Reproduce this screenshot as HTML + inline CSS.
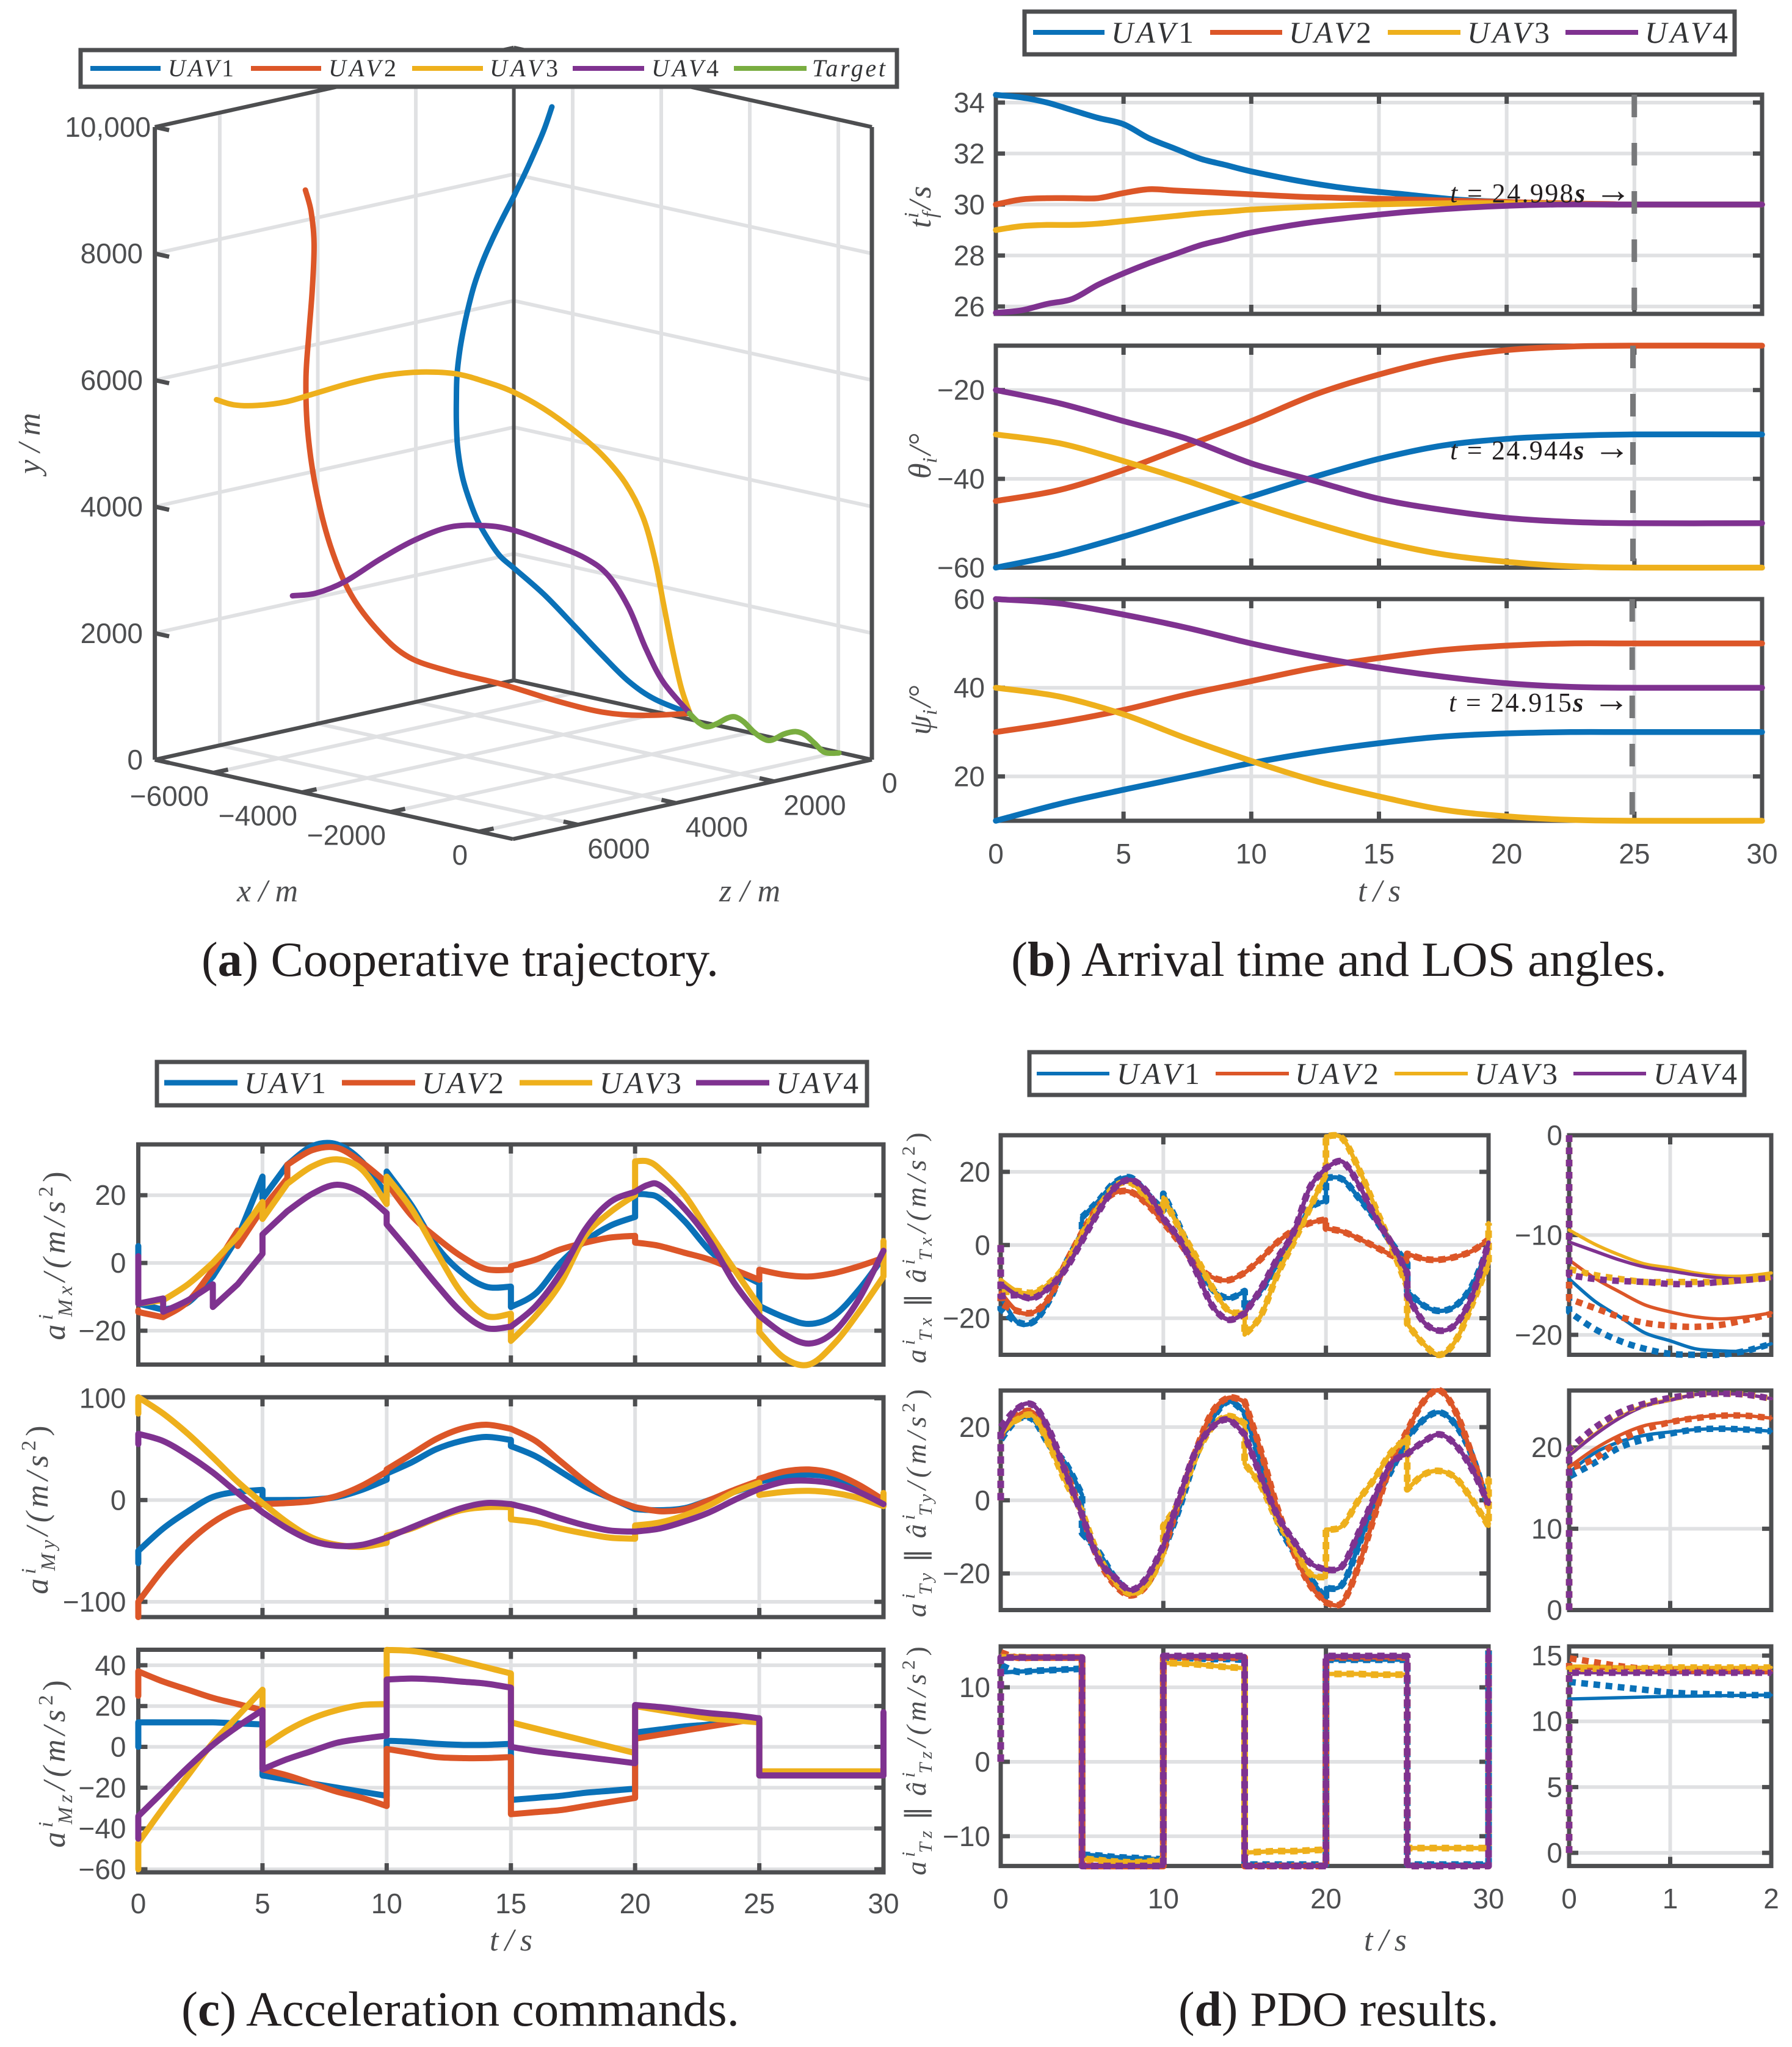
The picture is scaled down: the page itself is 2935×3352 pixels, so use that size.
<!DOCTYPE html>
<html lang="en">
<head>
<meta charset="utf-8">
<title>UAV cooperative guidance results</title>
<style>
html,body{margin:0;padding:0;background:#fff}
svg{display:block}
.tick{font:46px "Liberation Sans",sans-serif;fill:#4d4e50}
.m{font:italic 52px "Liberation Serif",serif;fill:#4d4e50}
.md{font:italic 46px "Liberation Serif",serif;fill:#4d4e50}
.s{font-size:34px}
.md .s{font-size:31px}
.r{font-style:normal}
.lg{font:italic 50px "Liberation Serif",serif;fill:#333436}
.lga{font:italic 40px "Liberation Serif",serif;fill:#333436}
.cap{font:80px "Liberation Serif",serif;fill:#231f20}
.note{font:44px "Liberation Serif","DejaVu Serif",serif;fill:#231f20}
.lbox{fill:#fff;stroke:#4d4e50;stroke-width:7}
</style>
</head>
<body>
<svg id="fig" xmlns="http://www.w3.org/2000/svg" width="2935" height="3352" viewBox="0 0 2935 3352">
<rect width="2935" height="3352" fill="#fff"/>
<g id="marks"></g>

<!-- Panel a static text -->
<g>
<rect class="lbox" x="132" y="82" width="1337" height="60"/>
<line x1="148" x2="263" y1="112" y2="112" stroke="#0a71b8" stroke-width="8"/>
<text class="lga" x="275" y="125" textLength="108">UAV<tspan class="r">1</tspan></text>
<line x1="411" x2="526" y1="112" y2="112" stroke="#dc5628" stroke-width="8"/>
<text class="lga" x="538" y="125" textLength="111">UAV<tspan class="r">2</tspan></text>
<line x1="675" x2="791" y1="112" y2="112" stroke="#eeb01c" stroke-width="8"/>
<text class="lga" x="802" y="125" textLength="112">UAV<tspan class="r">3</tspan></text>
<line x1="938" x2="1055" y1="112" y2="112" stroke="#7f3290" stroke-width="8"/>
<text class="lga" x="1067" y="125" textLength="110">UAV<tspan class="r">4</tspan></text>
<line x1="1202" x2="1321" y1="112" y2="112" stroke="#79ad40" stroke-width="8"/>
<text class="lga" x="1330" y="125" textLength="120">Target</text>
</g>
<text class="m" transform="translate(65,726) rotate(-90)" text-anchor="middle" textLength="100">y/m</text>
<text class="m" x="438" y="1476" text-anchor="middle" textLength="100">x/m</text>
<text class="m" x="1228" y="1476" text-anchor="middle" textLength="100">z/m</text>
<text class="cap" x="330" y="1598" textLength="847" lengthAdjust="spacingAndGlyphs">(<tspan font-weight="bold">a</tspan>) Cooperative trajectory.</text>

<!-- Panel b static text -->
<g>
<rect class="lbox" x="1678" y="19" width="1163" height="70"/>
<line x1="1692" x2="1809" y1="53" y2="53" stroke="#0a71b8" stroke-width="8"/>
<text class="lg" x="1820" y="70" textLength="135">UAV<tspan class="r">1</tspan></text>
<line x1="1982" x2="2100" y1="53" y2="53" stroke="#dc5628" stroke-width="8"/>
<text class="lg" x="2111" y="70" textLength="135">UAV<tspan class="r">2</tspan></text>
<line x1="2273" x2="2392" y1="53" y2="53" stroke="#eeb01c" stroke-width="8"/>
<text class="lg" x="2403" y="70" textLength="135">UAV<tspan class="r">3</tspan></text>
<line x1="2564" x2="2683" y1="53" y2="53" stroke="#7f3290" stroke-width="8"/>
<text class="lg" x="2694" y="70" textLength="136">UAV<tspan class="r">4</tspan></text>
</g>
<text class="m" transform="translate(1524,337) rotate(-90)" text-anchor="middle">t<tspan class="s" dy="-20" dx="2">i</tspan><tspan class="s" dy="30" dx="-9">f</tspan><tspan dy="-10" dx="4" letter-spacing="4">/s</tspan></text>
<text class="m" transform="translate(1524,747) rotate(-90)" text-anchor="middle">θ<tspan class="s" dy="10">i</tspan><tspan dy="-10" dx="4">/°</tspan></text>
<text class="m" transform="translate(1524,1163) rotate(-90)" text-anchor="middle">ψ<tspan class="s" dy="10">i</tspan><tspan dy="-10" dx="4">/°</tspan></text>
<text class="m" x="2259" y="1476" text-anchor="middle" textLength="70">t/s</text>
<text class="cap" x="1656" y="1598" textLength="1074" lengthAdjust="spacingAndGlyphs">(<tspan font-weight="bold">b</tspan>) Arrival time and LOS angles.</text>

<!-- Panel c static text -->
<g>
<rect class="lbox" x="257" y="1739" width="1163" height="71"/>
<line x1="269" x2="389" y1="1773" y2="1773" stroke="#0a71b8" stroke-width="9"/>
<text class="lg" x="400" y="1790" textLength="134">UAV<tspan class="r">1</tspan></text>
<line x1="560" x2="680" y1="1773" y2="1773" stroke="#dc5628" stroke-width="9"/>
<text class="lg" x="691" y="1790" textLength="134">UAV<tspan class="r">2</tspan></text>
<line x1="851" x2="970" y1="1773" y2="1773" stroke="#eeb01c" stroke-width="9"/>
<text class="lg" x="982" y="1790" textLength="134">UAV<tspan class="r">3</tspan></text>
<line x1="1140" x2="1260" y1="1773" y2="1773" stroke="#7f3290" stroke-width="9"/>
<text class="lg" x="1271" y="1790" textLength="135">UAV<tspan class="r">4</tspan></text>
</g>
<text class="m" transform="translate(106,2053) rotate(-90)" text-anchor="middle" letter-spacing="7">a<tspan class="s" dy="-20">i</tspan><tspan class="s" dy="32" dx="-11">Mx</tspan><tspan dy="-12">/(m/s</tspan><tspan class="s r" dy="-20">2</tspan><tspan class="r" dy="20">)</tspan></text>
<text class="m" transform="translate(78,2469) rotate(-90)" text-anchor="middle" letter-spacing="7">a<tspan class="s" dy="-20">i</tspan><tspan class="s" dy="32" dx="-11">My</tspan><tspan dy="-12">/(m/s</tspan><tspan class="s r" dy="-20">2</tspan><tspan class="r" dy="20">)</tspan></text>
<text class="m" transform="translate(106,2885) rotate(-90)" text-anchor="middle" letter-spacing="7">a<tspan class="s" dy="-20">i</tspan><tspan class="s" dy="32" dx="-11">Mz</tspan><tspan dy="-12">/(m/s</tspan><tspan class="s r" dy="-20">2</tspan><tspan class="r" dy="20">)</tspan></text>
<text class="m" x="837" y="3194" text-anchor="middle" textLength="70">t/s</text>
<text class="cap" x="297" y="3317" textLength="914" lengthAdjust="spacingAndGlyphs">(<tspan font-weight="bold">c</tspan>) Acceleration commands.</text>

<!-- Panel d static text -->
<g>
<rect class="lbox" x="1686" y="1723" width="1171" height="70"/>
<line x1="1698" x2="1817" y1="1758" y2="1758" stroke="#0a71b8" stroke-width="6"/>
<text class="lg" x="1829" y="1775" textLength="136">UAV<tspan class="r">1</tspan></text>
<line x1="1991" x2="2111" y1="1758" y2="1758" stroke="#dc5628" stroke-width="6"/>
<text class="lg" x="2121" y="1775" textLength="137">UAV<tspan class="r">2</tspan></text>
<line x1="2284" x2="2404" y1="1758" y2="1758" stroke="#eeb01c" stroke-width="6"/>
<text class="lg" x="2415" y="1775" textLength="136">UAV<tspan class="r">3</tspan></text>
<line x1="2577" x2="2696" y1="1758" y2="1758" stroke="#7f3290" stroke-width="6"/>
<text class="lg" x="2708" y="1775" textLength="137">UAV<tspan class="r">4</tspan></text>
</g>
<text class="md" transform="translate(1516,2040) rotate(-90)" text-anchor="middle" letter-spacing="7">a<tspan class="s" dy="-18">i</tspan><tspan class="s" dy="28" dx="-9">Tx</tspan><tspan class="r" dy="-10" dx="10">∥</tspan><tspan dx="10">â</tspan><tspan class="s" dy="-18">i</tspan><tspan class="s" dy="28" dx="-9">Tx</tspan><tspan dy="-10">/(m/s</tspan><tspan class="s r" dy="-18">2</tspan><tspan class="r" dy="18">)</tspan></text>
<text class="md" transform="translate(1516,2458) rotate(-90)" text-anchor="middle" letter-spacing="7">a<tspan class="s" dy="-18">i</tspan><tspan class="s" dy="28" dx="-9">Ty</tspan><tspan class="r" dy="-10" dx="10">∥</tspan><tspan dx="10">â</tspan><tspan class="s" dy="-18">i</tspan><tspan class="s" dy="28" dx="-9">Ty</tspan><tspan dy="-10">/(m/s</tspan><tspan class="s r" dy="-18">2</tspan><tspan class="r" dy="18">)</tspan></text>
<text class="md" transform="translate(1516,2880) rotate(-90)" text-anchor="middle" letter-spacing="7">a<tspan class="s" dy="-18">i</tspan><tspan class="s" dy="28" dx="-9">Tz</tspan><tspan class="r" dy="-10" dx="10">∥</tspan><tspan dx="10">â</tspan><tspan class="s" dy="-18">i</tspan><tspan class="s" dy="28" dx="-9">Tz</tspan><tspan dy="-10">/(m/s</tspan><tspan class="s r" dy="-18">2</tspan><tspan class="r" dy="18">)</tspan></text>
<text class="m" x="2269" y="3194" text-anchor="middle" textLength="70">t/s</text>
<text class="cap" x="1930" y="3317" textLength="525" lengthAdjust="spacingAndGlyphs">(<tspan font-weight="bold">d</tspan>) PDO results.</text>

<g id="notes">
<text class="note" x="2375" y="331" textLength="297"><tspan font-style="italic">t</tspan> = 24.998<tspan font-style="italic" font-weight="bold">s</tspan> <tspan font-size="60">→</tspan></text>
<text class="note" x="2375" y="752" textLength="295"><tspan font-style="italic">t</tspan> = 24.944<tspan font-style="italic" font-weight="bold">s</tspan> <tspan font-size="60">→</tspan></text>
<text class="note" x="2373" y="1165" textLength="296"><tspan font-style="italic">t</tspan> = 24.915<tspan font-style="italic" font-weight="bold">s</tspan> <tspan font-size="60">→</tspan></text>
</g>
</svg>

<script>
// ===== Panel (a): 3D trajectories =====
const traj1X=[-4848,-5047,-5306,-5550,-5809,-6109,-6367,-6598,-6801,-6963,-7098,-7204,-7284,-7322,-7346,-7343,-7271,-7157,-6975,-6723,-6500,-6221,-5633,-5015,-4396,-3843,-3290,-2540];
const traj1Y=[9700,9308,8878,8498,8117,7690,7308,6931,6539,6143,5761,5403,5029,4662,4269,3879,3453,3128,2777,2474,2264,2120,1777,1389,992,663,459,345];
const traj1Z=[1465,1443,1421,1399,1377,1355,1333,1311,1289,1267,1245,1223,1201,1179,1157,1135,1113,1091,1069,1048,1026,1004,916,879,842,806,769,733];
const traj2X=[-6361,-6230,-6164,-6204,-6282,-6348,-6309,-6125,-6200,-6142,-6292,-6037,-5518,-4737,-3954,-3709,-3190,-2540];
const traj2Y=[8778,8453,7955,7237,6514,5792,4985,4098,3111,2293,1535,1125,920,775,579,310,276,345];
const traj2Z=[5128,5128,5128,5128,5128,5128,5128,5128,4761,4395,3663,3296,2930,2564,2198,1465,1099,733];
const traj3X=[-6747,-6352,-5826,-5166,-4912,-4524,-4138,-3751,-3365,-3110,-2882,-2601,-2280,-2091,-1968,-1977,-2118,-2325,-2531,-2576,-2540];
const traj3Y=[5655,5635,5707,5869,5979,6139,6258,6306,6274,6128,5938,5655,5276,4877,4386,3783,3037,2232,1425,771,345];
const traj3Z=[6593,6593,6593,6593,6226,5860,5494,5128,4761,4395,4029,3663,3296,2930,2564,2198,1831,1465,1099,879,733];
const traj4X=[-6651,-6125,-5466,-5078,-4692,-4305,-3919,-3691,-3278,-2891,-2769,-2711,-2720,-2729,-2540];
const traj4Y=[2320,2442,2728,3080,3382,3583,3601,3502,3300,3064,2745,2183,1459,866,345];
const traj4Z=[5128,5128,5128,4761,4395,4029,3663,3296,2930,2564,2198,1831,1465,1099,733];
const targetX=[-2553,-2346,-2194,-2014,-1820,-1682,-1529,-1349,-1115,-976,-741,-480,-313,-133,100,418];
const targetY=[344,233,182,252,363,398,338,205,125,122,248,327,299,185,76,116];
const targetZ=[733,733,696,659,623,586,549,513,513,476,440,440,403,366,366,366];
const xTicks3d=[-6000,-4000,-2000,0];
const xTickLabels3d=['−6000','−4000','−2000','0'];
const zTicks3d=[0,2000,4000,6000];
const zTickLabels3d=['0','2000','4000','6000'];
const yTicks3d=[0,2000,4000,6000,8000,10000];
const yTickLabels3d=['0','2000','4000','6000','8000','10,000'];

// ===== Panel (b) =====
const tfTime=[0,1,2,3,4,5,6,7,8,9,10,12,14,16,18,20,22,24,25,30];
const tf1=[34.3,34.2,34,33.7,33.4,33.15,32.6,32.2,31.8,31.55,31.3,30.9,30.6,30.4,30.2,30.1,30.03,30,30,30];
const tf2=[30,30.2,30.25,30.25,30.25,30.45,30.6,30.55,30.5,30.45,30.4,30.3,30.25,30.2,30.15,30.1,30.05,30.02,30,30];
const tf3=[29,29.15,29.2,29.2,29.25,29.35,29.45,29.55,29.65,29.72,29.8,29.9,29.98,30.03,30.05,30.05,30.03,30,30,30];
const tf4=[25.75,25.85,26.1,26.3,26.85,27.3,27.7,28.05,28.4,28.65,28.9,29.25,29.5,29.7,29.85,29.95,30,30,30,30];
const angTime=[0,2.5,5,7.5,10,12.5,15,17.5,20,22.5,25,30];
const theta1=[-60,-57,-53,-48.5,-44,-39.5,-35.5,-32.5,-31,-30.3,-30,-30];
const theta2=[-45,-42.5,-38,-32.5,-27,-21,-16.5,-13,-11,-10.2,-10,-10];
const theta3=[-30,-32,-36,-40.5,-45.5,-50,-54,-57,-58.7,-59.7,-60,-60];
const theta4=[-20,-23,-27,-31,-36.5,-40.5,-44.5,-47,-48.8,-49.7,-50,-50];
const psi1=[10,13.8,17,20,23,25.5,27.5,29,29.7,30,30,30];
const psi2=[30,32.2,35,38.5,41.5,44.5,46.7,48.5,49.5,50,50,50];
const psi3=[40,38,34,28.5,23.5,19,15.5,12.5,11,10.2,10,10];
const psi4=[60,59,56.5,53.5,50,47,44.5,42.5,41,40.2,40,40];
const arrivalTimes=[24.998,24.944,24.915];
const tfTicks=[26,28,30,32,34];
const thetaTicks=[-60,-40,-20];
const psiTicks=[20,40,60];
const timeTicks=[0,5,10,15,20,25,30];

// ===== Panel (c) =====
const cmdXTime=[0,0,1,1,2,3,3,4,4,5,5,6,6,7,8,9,10,10,11,12,13,14,15,15,16,17,18,19,20,20,20.5,21,22,23,24,25,25,26,27,28,29,30,30];
const amx1=[5,-12,-13.8,-13.8,-11.7,-4,-4,7.5,7.5,25.5,19,29,29,34.5,35,30,20,27,17,5,-2.7,-7,-7,-13,-9,0,6.5,11,13.6,20.4,20.2,19,12.3,3.7,-2,-6,-12.7,-16,-18,-15.6,-8,1.7,1.7];
const amx2=[-14,-14.5,-16,-16,-11.4,-2,-2,9.6,5,16,16,25,29,33.3,34,29.7,23.7,23.7,14,7.5,2,-1.8,-2,-1,1,4,6,7.5,8,6,5.6,5,3,1,-2,-5,-2,-3.5,-4,-3,-1,1.5,1.5];
const amx3=[-12,-12,-11,-11,-6.3,0,0,7.8,7.8,18,13,23.4,23.4,28.5,30.6,27.6,17.4,25.5,16,3.3,-8.7,-15.6,-15,-23,-15.6,-6,8,15,20,30,30,27.7,20,8.8,-2,-12.7,-20.4,-28,-30,-24,-14.6,-4,6.5];
const amx4=[2,-12,-10.5,-14.4,-11,-6.3,-13,-6.3,-6.3,2.7,8.4,15.3,15.3,20.4,23.1,20.7,14.7,11.4,2.7,-6.3,-14.4,-19.2,-18.8,-18.8,-12.7,-3,10,18,21,21,23,22.9,16,6.5,-6,-15.6,-15.6,-21,-23.8,-20.4,-10.8,3.6,3.6];
const stepTime=[0,0,1,2,3,4,5,5,6,7,8,9,10,10,11,12,13,14,15,15,16,17,18,19,20,20,21,22,23,24,25,25,26,27,28,29,30,30];
const amy1=[-62,-50,-28,-11,3,8,10,0,0,0.5,3,10,20,26,37,50,58,62,59,53,43,28,13,2,-9,-9,-10,-8,0,8,16,18,23,25,22,12,-2,-2];
const amy2=[-115,-100,-68,-42,-22,-9,-4,-4,-3,-1,4,14,28,30,45,60,70,74,70,70,58,38,18,2,-7,-7,-11,-9,0,10,19,21,28,30,26,15,0,0];
const amy3=[85,101,85,65,42,18,-3,-3,-22,-37,-44,-46,-42,-35,-28,-18,-10,-7,-7,-19,-22,-28,-33,-37,-38,-25,-22,-15,-5,8,17,5,8,9,7,2,-6,7];
const amy4=[55,65,58,44,27,7,-12,-12,-28,-40,-45,-44,-37,-37,-27,-17,-8,-3,-4,-4,-10,-18,-25,-30,-31,-31,-28,-21,-12,0,11,11,18,19,16,8,-4,-4];
const amz1=[0,12,12,12,12,11.5,11,-14,-16,-18,-20,-22,-24,3,2.5,1.5,1,1,1.5,-26,-25,-24,-22.5,-21.5,-20.5,7,8.5,10,11,13,14,-14,-14,-14,-14,-14,-14,-14];
const amz2=[25,37,32,28,24,21,18,-11,-14,-18,-22,-25,-29,-1,-3,-5,-5.5,-5.5,-5,-33,-32,-31,-29,-27,-25,4,6,8,10,12,14,-14,-14,-14,-14,-14,-14,-14];
const amz3=[-60,-47,-30,-14,2,15,28,0,8,14,18,20.5,21,47.5,47,45,42,39,36,12,9,6,3,0,-3,20,18,16,14,13,12,-12,-12,-12,-12,-12,-12,-12];
const amz4=[-45,-34,-22,-10,1,10,18,-11,-6,-2,2,4,5.5,33,33.5,33,32,31,29,0,-2,-3.5,-5,-6.5,-8,20.5,19.5,18,16.5,15.5,14,-14,-14,-14,-14,-14,-14,17];
const amxTicks=[-20,0,20];
const amyTicks=[-100,0,100];
const amzTicks=[-60,-40,-20,0,20,40];

// ===== Panel (d): actual target acceleration and observer head samples =====
const atx1=[-14,-14,-21,-21,-15,-5,3,7.6,12,17,18.4,14,9.5,14,5,-5,-12,-14.5,-12.6,-17.6,-12.6,-5.4,2,10,12,18.4,18,13,7.3,0.7,-5,-12.6,-16.5,-18,-16.5,-11,-0.4,-0.4];
const atx2=[-13,-13,-18,-18.4,-14.3,-5,3.4,3.4,10.6,14.2,14.5,11.2,6.2,6.2,0.7,-5.4,-8.8,-9.6,-7.6,-7.6,-3.8,0.7,4,6,7,4.5,3.7,1.8,-0.4,-2.7,-4.6,-2.4,-3.8,-4,-3.2,-1.6,1.5,1.5];
const atx3=[-9.5,-9.5,-12.6,-13,-10.4,-5.4,3,3,10,16,17,12.9,9,13,4.5,-3.2,-11.5,-17.9,-18.4,-24.5,-19.3,-8.2,0.7,10,19.5,29.7,29.2,21,10.6,0,-11.5,-21.5,-27,-30,-26,-16,-5,6];
const atx4=[-10.5,-10.5,-13.7,-14.5,-11.5,-6.5,1.2,1.2,9,15.6,17.8,14.5,7.3,7.3,1.5,-7,-16.5,-20.4,-18.7,-18.7,-12,-3.8,3.4,15.6,21,21,22.8,16.7,7.9,0.7,-7.6,-13.7,-21,-23.4,-21.5,-13.7,0.7,0.7];
const aty1=[17,17,22,22,15,10,1.5,-9,-14,-21,-25,-23,-14,-14,-2,12,22,27,24,24,10,-5.5,-14,-21,-27,-24,-23,-12.5,0,8,17,17,22,24,20.5,12,-2,-2];
const aty2=[17.5,17.5,23,24,17,8,-4,-4,-16,-23,-26,-23,-14,-14,0,13.5,24,28,27,27,13.5,-2,-14,-23,-28,-28,-28,-18,-4,10,19,19,27,30,24,12,-2,-2];
const aty3=[18,18,22,23,15,5,-3,-3,-15,-22,-25.5,-23,-15,-7,0,12,20,23,21,10,4,-5.5,-12.5,-20,-21,-8,-7,0,6,13,17,3,7,8,6,0,-7,6];
const aty4=[18,18,25,26,19,7.5,-4,-4,-16,-21,-24.5,-21,-12.5,-12.5,1,13.5,20,22,18,18,6.5,-4,-11,-17,-19,-19,-18,-9,1,10,12.7,12.7,16,18,15,8.4,-1,-1];
const atz1=[12,12,12.1,12.2,12.3,12.4,12.5,-12.5,-12.6,-12.8,-12.9,-13,-13.1,14,14,13.9,13.8,13.8,13.7,-13.8,-13.8,-13.8,-13.8,-13.8,-13.8,13.7,13.7,13.7,13.7,13.7,13.7,-13.8,-13.8,-13.8,-13.8,-13.8,-13.8,15];
const atz2=[14.2,14,14,14,14,14,14,-14,-14,-14,-14,-14,-14,14,14,14,14,14,14,-14,-14,-14,-14,-14,-14,14,14,14,14,14,14,-14,-14,-14,-14,-14,-14,15];
const atz3=[14.2,14.2,14.1,14,14,14,14,-13,-13.2,-13.4,-13.5,-13.4,-13.2,13.3,13.2,13.1,12.9,12.7,12.6,-12.2,-12.1,-12,-12,-11.9,-11.8,11.8,11.8,11.8,11.7,11.7,11.7,-11.6,-11.6,-11.6,-11.6,-11.6,-11.6,15];
const atz4=[13.8,13.8,14,14,14,14,14,-14,-14,-14,-14,-14,-14,14.2,14.2,14.2,14.2,14.2,14.2,-14,-14,-14,-14,-14,-14,14.2,14.2,14.2,14.2,14.2,14.2,-14,-14,-14,-14,-14,-14,15];
const estHeadTx=[[0,-17.5],[0,-16],[0,-13],[0,-14]];
const estHeadTy=[[0,16.5],[0,17.5],[0,19],[0,20]];
const estHeadTz=[[0,13],[0,14.7],[0,14],[0,14]];
const pdoTicks=[0,10,20,30];
const pdoXYTicks=[-20,0,20];
const pdoZTicks=[-10,0,10];

// Panel (d) zoomed insets over the first two seconds
const zoomTime=[0,0.25,0.5,0.75,1,1.25,1.5,1.75,2];
const zoomEstTime=[0,0,0.25,0.5,0.75,1,1.25,1.5,1.75,2];
const ztx1=[-14.4,-16.6,-18.2,-19.8,-20.6,-21.4,-21.6,-21.6,-20.9];
const ztx2=[-12.5,-14.3,-15.7,-17,-17.7,-18.2,-18.4,-18.2,-17.8];
const ztx3=[-9.5,-10.9,-12,-12.9,-13.3,-13.8,-14.1,-14.1,-13.8];
const ztx4=[-10.7,-11.6,-12.5,-13.2,-13.6,-14,-14.3,-14.4,-14.3];
const ztxE1=[0,-17.7,-19.4,-20.6,-21.4,-21.9,-22,-22,-21.6,-20.9];
const ztxE2=[0,-16.4,-17.3,-18.2,-18.8,-19.1,-19.2,-19,-18.5,-17.9];
const ztxE3=[0,-13.4,-14,-14.4,-14.7,-14.7,-14.7,-14.7,-14.5,-14.2];
const ztxE4=[0,-14,-14.4,-14.6,-14.7,-14.9,-14.9,-14.7,-14.5,-14.3];
const zty1=[16.9,19.3,20.7,21.5,21.9,22.2,22.3,22.2,22];
const zty2=[17.6,19.8,21.5,22.7,23.2,23.7,23.9,23.9,23.6];
const zty3=[19,21.6,23.7,25.2,25.9,26.5,26.6,26.5,26];
const zty4=[19,21.5,23.6,25.1,25.8,26.5,26.6,26.5,26];
const ztyE1=[0,16.4,18.1,20,21,21.7,22.2,22.3,22.2,22];
const ztyE2=[0,17.4,18.6,20.9,22.2,23.1,23.6,23.9,23.9,23.6];
const ztyE3=[0,19.7,22.3,24.2,25.3,26,26.5,26.6,26.5,26];
const ztyE4=[0,19.8,22.4,24.3,25.4,26.1,26.5,26.6,26.5,26];
const ztz1=[11.7,11.75,11.8,11.85,11.9,11.92,11.95,11.98,12];
const ztz2=[14,14,14,14,14,13.95,13.9,13.85,13.8];
const ztz3=[14.2,14.2,14.15,14.1,14.1,14.1,14.1,14.1,14.1];
const ztz4=[13.7,13.7,13.7,13.7,13.7,13.7,13.7,13.7,13.7];
const ztzE1=[0,13,12.8,12.6,12.4,12.2,12.1,12.05,12,12];
const ztzE2=[0,14.8,14.5,14.2,14,13.9,13.85,13.85,13.85,13.8];
const ztzE3=[0,14,14,14,14.05,14.1,14.1,14.1,14.1,14.1];
const ztzE4=[0,13.7,13.7,13.7,13.7,13.7,13.7,13.7,13.7,13.7];
const zoomTimeTicks=[0,1,2];
const zoomTxTicks=[-20,-10,0];
const zoomTyTicks=[0,10,20];
const zoomTzTicks=[0,5,10,15];

// ===== Drawing =====
const NS='http://www.w3.org/2000/svg';
const root=document.getElementById('marks');
const AXC='#4d4e50',GRC='#e0e1e3';
const C=['#0a71b8','#dc5628','#eeb01c','#7f3290'];
const GREEN='#79ad40';
const fmt=v=>String(v).replace('-','−');

function mk(tag,attrs,parent){
  const el=document.createElementNS(NS,tag);
  for(const k in attrs){el.setAttribute(k,attrs[k]);}
  (parent||root).appendChild(el);
  return el;
}
function seg(x1,y1,x2,y2,color,w,name,g){
  const el=mk('line',{x1:x1,y1:y1,x2:x2,y2:y2,stroke:color,'stroke-width':w},g);
  
  
  return el;
}
function label(x,y,txt,anchor,name,g){
  const el=mk('text',{x:x,y:y,'text-anchor':anchor,class:'tick'},g);
  el.textContent=txt;
  
  
  return el;
}
function smoothPath(px,breaks){
  let d='M'+px[0][0].toFixed(1)+' '+px[0][1].toFixed(1);
  const emit=(s,e)=>{
    for(let j=s;j<e;j++){
      const p0=px[Math.max(j-1,s)],p1=px[j],p2=px[j+1],p3=px[Math.min(j+2,e)];
      d+=' C'+(p1[0]+(p2[0]-p0[0])/6).toFixed(1)+' '+(p1[1]+(p2[1]-p0[1])/6).toFixed(1)+' '+(p2[0]-(p3[0]-p1[0])/6).toFixed(1)+' '+(p2[1]-(p3[1]-p1[1])/6).toFixed(1)+' '+p2[0].toFixed(1)+' '+p2[1].toFixed(1);
    }
  };
  let start=0;
  for(let i=1;i<=px.length;i++){
    if(i===px.length||(breaks&&px[i][0]===px[i-1][0])){
      emit(start,i-1);
      if(i<px.length){d+=' L'+px[i][0].toFixed(1)+' '+px[i][1].toFixed(1);}
      start=i;
    }
  }
  return d;
}
function series(ax,ts,vs,color,w,name,dash){
  const px=ts.map((t,i)=>[ax.sx(t),ax.sy(vs[i])]);
  const el=mk('path',{d:smoothPath(px,true),fill:'none',stroke:color,'stroke-width':w,'stroke-linejoin':'round','stroke-linecap':dash?'butt':'round'},ax.g);
  if(dash){el.setAttribute('stroke-dasharray',dash);}
  
  
  return el;
}
function axes(c){
  const g=mk('g',{});
  
  
  const sx=v=>c.x0+(v-c.xlim[0])/(c.xlim[1]-c.xlim[0])*(c.x1-c.x0);
  const sy=v=>c.y1-(v-c.ylim[0])/(c.ylim[1]-c.ylim[0])*(c.y1-c.y0);
  c.xticks.forEach(t=>{seg(sx(t),c.y0,sx(t),c.y1,GRC,6,c.name+'-x-grid',g);});
  c.yticks.forEach(t=>{seg(c.x0,sy(t),c.x1,sy(t),GRC,6,c.name+'-y-grid',g);});
  c.xticks.forEach(t=>{
    seg(sx(t),c.y0,sx(t),c.y0+15,AXC,7,c.name+'-x-tick-top',g);
    seg(sx(t),c.y1,sx(t),c.y1-15,AXC,7,c.name+'-x-tick-bottom',g);
  });
  c.yticks.forEach(t=>{
    seg(c.x0,sy(t),c.x0+15,sy(t),AXC,7,c.name+'-y-tick-left',g);
    seg(c.x1,sy(t),c.x1-15,sy(t),AXC,7,c.name+'-y-tick-right',g);
  });
  const box=mk('rect',{x:c.x0,y:c.y0,width:c.x1-c.x0,height:c.y1-c.y0,fill:'none',stroke:AXC,'stroke-width':7},g);
  
  
  c.yticks.forEach(t=>{label(c.x0-c.ygap,sy(t)+16,fmt(t),'end',c.name+'-y-tick-label',g);});
  if(c.xlabelY){c.xticks.forEach(t=>{label(sx(t),c.xlabelY,fmt(t),'middle',c.name+'-x-tick-label',g);});}
  return {sx,sy,g,c};
}
function withHead(head,vals){return head.concat(vals.slice(head.length));}

// ---- 3D panel
const X_MIN=-7329,X_MAX=758,Z_MAX=7325,Y_MAX=10000;
function proj(x,y,z){
  const a=(X_MAX-x)/(X_MAX-X_MIN),b=1-z/Z_MAX;
  return [840-586.4*a+588*b,1374-130*a-130*b-1036*y/Y_MAX];
}
(function(){
  const g=mk('g',{});
  
  
  const l3=(p,q,color,w,name)=>{const A=proj(p[0],p[1],p[2]),B=proj(q[0],q[1],q[2]);return seg(A[0],A[1],B[0],B[1],color,w,name,g);};
  yTicks3d.forEach(v=>{
    if(v>0&&v<Y_MAX){
      l3([X_MIN,v,Z_MAX],[X_MIN,v,0],GRC,6,'left-wall-y-grid');
      l3([X_MIN,v,0],[X_MAX,v,0],GRC,6,'right-wall-y-grid');
    }
  });
  zTicks3d.forEach(v=>{
    if(v>0){
      l3([X_MIN,0,v],[X_MIN,Y_MAX,v],GRC,6,'left-wall-z-grid');
      l3([X_MIN,0,v],[X_MAX,0,v],GRC,6,'floor-z-grid');
    }
  });
  xTicks3d.forEach(v=>{
    l3([v,0,0],[v,Y_MAX,0],GRC,6,'right-wall-x-grid');
    l3([v,0,0],[v,0,Z_MAX],GRC,6,'floor-x-grid');
  });
  l3([X_MIN,0,Z_MAX],[X_MAX,0,Z_MAX],AXC,6.5,'x-axis-edge');
  l3([X_MAX,0,Z_MAX],[X_MAX,0,0],AXC,6.5,'z-axis-edge');
  l3([X_MIN,0,Z_MAX],[X_MIN,0,0],AXC,6.5,'floor-back-left-edge');
  l3([X_MIN,0,0],[X_MAX,0,0],AXC,6.5,'floor-back-right-edge');
  l3([X_MIN,0,Z_MAX],[X_MIN,Y_MAX,Z_MAX],AXC,7,'y-axis-edge');
  l3([X_MAX,0,0],[X_MAX,Y_MAX,0],AXC,7,'right-vertical-edge');
  l3([X_MIN,0,0],[X_MIN,Y_MAX,0],AXC,6,'back-vertical-edge');
  l3([X_MIN,Y_MAX,Z_MAX],[X_MIN,Y_MAX,0],AXC,6.5,'top-left-edge');
  l3([X_MIN,Y_MAX,0],[X_MAX,Y_MAX,0],AXC,6.5,'top-right-edge');
  const zStep=0.04*Z_MAX,xStep=0.04*(X_MAX-X_MIN);
  xTicks3d.forEach((v,i)=>{
    l3([v,0,Z_MAX],[v,0,Z_MAX-zStep],AXC,7,'x-tick');
    const p=proj(v,0,Z_MAX);
    label(p[0]-(v===0?19:8),p[1]+54,xTickLabels3d[i],'end','x-tick-label-3d',g);
  });
  zTicks3d.forEach((v,i)=>{
    if(v>0){l3([X_MAX,0,v],[X_MAX-xStep,0,v],AXC,7,'z-tick');}
    const p=proj(X_MAX,0,v);
    label(p[0]+(v>0?67:29),p[1]+(v>0?55:54),zTickLabels3d[i],'middle','z-tick-label-3d',g);
  });
  yTicks3d.forEach((v,i)=>{
    l3([X_MIN,v,Z_MAX],[X_MIN+xStep,v,Z_MAX],AXC,7,'y-tick');
    const p=proj(X_MIN,v,Z_MAX);
    label(v>=10000?247:234,p[1]+16,yTickLabels3d[i],'end','y-tick-label-3d',g);
  });
  const trajectories=[[traj1X,traj1Y,traj1Z,C[0],'uav1-trajectory'],[traj2X,traj2Y,traj2Z,C[1],'uav2-trajectory'],[traj3X,traj3Y,traj3Z,C[2],'uav3-trajectory'],[traj4X,traj4Y,traj4Z,C[3],'uav4-trajectory'],[targetX,targetY,targetZ,GREEN,'target-trajectory']];
  trajectories.forEach(tr=>{
    const px=tr[0].map((x,i)=>proj(x,tr[1][i],tr[2][i]));
    const el=mk('path',{d:smoothPath(px,false),fill:'none',stroke:tr[3],'stroke-width':9,'stroke-linejoin':'round','stroke-linecap':'round'},g);
    
    
  });
})();

// ---- Panel b
const bTf=axes({name:'arrival-time-axes',x0:1631,x1:2886,y0:155,y1:514,xlim:[0,30],ylim:[25.71,34.31],xticks:timeTicks,yticks:tfTicks,ygap:18});
const bTh=axes({name:'theta-axes',x0:1631,x1:2886,y0:566,y1:929.5,xlim:[0,30],ylim:[-60,-10],xticks:timeTicks,yticks:thetaTicks,ygap:18});
const bPs=axes({name:'psi-axes',x0:1631,x1:2886,y0:981,y1:1344,xlim:[0,30],ylim:[10,60],xticks:timeTicks,yticks:psiTicks,ygap:18,xlabelY:1414});
[tf1,tf2,tf3,tf4].forEach((v,i)=>{series(bTf,tfTime,v,C[i],9.5,'arrival-time-uav'+(i+1));});
[theta1,theta2,theta3,theta4].forEach((v,i)=>{series(bTh,angTime,v,C[i],9.5,'theta-uav'+(i+1));});
[psi1,psi2,psi3,psi4].forEach((v,i)=>{series(bPs,angTime,v,C[i],9.5,'psi-uav'+(i+1));});
[bTf,bTh,bPs].forEach((ax,i)=>{
  const x=ax.sx(arrivalTimes[i]);
  const el=seg(x,ax.c.y0,x,ax.c.y1,'#77787a',9,'arrival-marker-line',ax.g);
  el.setAttribute('stroke-dasharray','37 42');
});

// ---- Panel c
const cX=axes({name:'amx-axes',x0:226.5,x1:1447,y0:1874,y1:2234.5,xlim:[0,30],ylim:[-30,35],xticks:timeTicks,yticks:amxTicks,ygap:20});
const cY=axes({name:'amy-axes',x0:226.5,x1:1447,y0:2288,y1:2648,xlim:[0,30],ylim:[-115,101],xticks:timeTicks,yticks:amyTicks,ygap:20});
const cZ=axes({name:'amz-axes',x0:226.5,x1:1447,y0:2701.5,y1:3066,xlim:[0,30],ylim:[-61.5,47.6],xticks:timeTicks,yticks:amzTicks,ygap:20,xlabelY:3133});
[amx1,amx2,amx3,amx4].forEach((v,i)=>{series(cX,cmdXTime,v,C[i],10,'amx-uav'+(i+1));});
[amy1,amy2,amy3,amy4].forEach((v,i)=>{series(cY,stepTime,v,C[i],10,'amy-uav'+(i+1));});
[amz1,amz2,amz3,amz4].forEach((v,i)=>{series(cZ,stepTime,v,C[i],10,'amz-uav'+(i+1));});

// ---- Panel d
const dX=axes({name:'atx-axes',x0:1639,x1:2438,y0:1859,y1:2218.5,xlim:[0,30],ylim:[-30,30],xticks:pdoTicks,yticks:pdoXYTicks,ygap:17});
const dY=axes({name:'aty-axes',x0:1639,x1:2438,y0:2277,y1:2636.5,xlim:[0,30],ylim:[-30,30],xticks:pdoTicks,yticks:pdoXYTicks,ygap:17});
const dZ=axes({name:'atz-axes',x0:1639,x1:2438,y0:2696,y1:3055.6,xlim:[0,30],ylim:[-14,15.5],xticks:pdoTicks,yticks:pdoZTicks,ygap:17,xlabelY:3125});
const iX=axes({name:'atx-inset-axes',x0:2570,x1:2901,y0:1859,y1:2218.5,xlim:[0,2],ylim:[-22,0],xticks:zoomTimeTicks,yticks:zoomTxTicks,ygap:11});
const iY=axes({name:'aty-inset-axes',x0:2570,x1:2901,y0:2277,y1:2636.5,xlim:[0,2],ylim:[0,27],xticks:zoomTimeTicks,yticks:zoomTyTicks,ygap:11});
const iZ=axes({name:'atz-inset-axes',x0:2570,x1:2901,y0:2696,y1:3055.6,xlim:[0,2],ylim:[-1,15.7],xticks:zoomTimeTicks,yticks:zoomTzTicks,ygap:11,xlabelY:3125});
function pdo(ax,trues,heads,nm){
  trues.forEach((v,i)=>{
    series(ax,stepTime,v,C[i],7,nm+'-actual-uav'+(i+1));
    series(ax,stepTime,withHead(heads[i],v),C[i],11,nm+'-estimate-uav'+(i+1),'12 8');
  });
}
pdo(dX,[atx1,atx2,atx3,atx4],estHeadTx,'atx');
pdo(dY,[aty1,aty2,aty3,aty4],estHeadTy,'aty');
pdo(dZ,[atz1,atz2,atz3,atz4],estHeadTz,'atz');
function zoomPdo(ax,trues,ests,nm){
  trues.forEach((v,i)=>{series(ax,zoomTime,v,C[i],5.5,nm+'-inset-actual-uav'+(i+1));});
  ests.forEach((v,i)=>{series(ax,zoomEstTime,v,C[i],10.5,nm+'-inset-estimate-uav'+(i+1),'11 9');});
}
zoomPdo(iX,[ztx1,ztx2,ztx3,ztx4],[ztxE1,ztxE2,ztxE3,ztxE4],'atx');
zoomPdo(iY,[zty1,zty2,zty3,zty4],[ztyE1,ztyE2,ztyE3,ztyE4],'aty');
zoomPdo(iZ,[ztz1,ztz2,ztz3,ztz4],[ztzE1,ztzE2,ztzE3,ztzE4],'atz');
</script>
</body>
</html>
